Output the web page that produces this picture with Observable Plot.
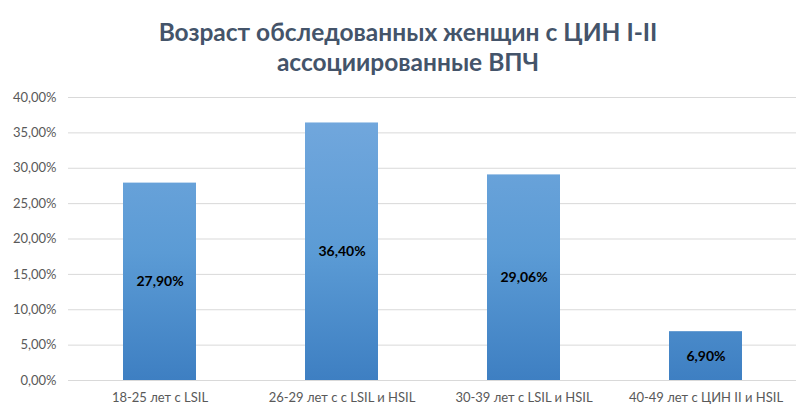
<!DOCTYPE html>
<html>
<head>
<meta charset="utf-8">
<script src="https://cdn.jsdelivr.net/npm/d3@7"></script>
<script src="https://cdn.jsdelivr.net/npm/@observablehq/plot@0.6"></script>
<style>
  html, body { margin: 0; padding: 0; background: #fff; }
  #title { width: 800px; height: 88px; box-sizing: border-box; padding-top: 17px; padding-left: 16px; text-align: center;
    font-family: Lato, "Open Sans", sans-serif; font-weight: bold; font-size: 24.5px; line-height: 30px; color: #44546a; }
  svg { display: block; }
</style>
</head>
<body>
<div id="title">Возраст обследованных женщин с ЦИН I-II<br>ассоциированные ВПЧ</div>
<div id="chart"></div>
<script>
const categories = ["18-25 лет с LSIL", "26-29 лет с с LSIL и HSIL", "30-39 лет с LSIL и HSIL", "40-49 лет с ЦИН II и HSIL"];
const values = [27.90, 36.40, 29.06, 6.90];
const yTicks = [0, 5, 10, 15, 20, 25, 30, 35, 40];

const data = categories.map((c, i) => ({category: c, value: values[i]}));
const fmt = v => v.toFixed(2).replace(".", ",") + "%";

const chart = Plot.plot({
  width: 800,
  height: 325,
  marginTop: 9,
  marginBottom: 33,
  marginLeft: 68,
  marginRight: 4,
  style: {fontFamily: "Lato, 'Open Sans', sans-serif", fontSize: "13px", color: "#595959", background: "#fff"},
  x: {domain: categories, label: null, paddingInner: 0.6, paddingOuter: 0.3, tickSize: 0, tickPadding: 12},
  y: {domain: [0, 40], ticks: yTicks, tickFormat: fmt, label: null, tickSize: 0, tickPadding: 12},
  marks: [
    Plot.gridY(yTicks, {stroke: "#d9d9d9", strokeOpacity: 1, strokeWidth: 1}),
    Plot.barY(data, {x: "category", y: "value", fill: "url(#barGrad)"}),
    Plot.text(data, {x: "category", y: d => d.value / 2, text: d => fmt(d.value), fill: "#000", fontWeight: "bold", fontSize: 14}),
    Plot.axisX({tickSize: 0, tickPadding: 12, fill: "#595959"}),
    Plot.axisY(yTicks, {tickSize: 0, tickPadding: 12, tickFormat: fmt, fill: "#595959"})
  ]
});

const svg = d3.select(chart);
const defs = svg.insert("defs", ":first-child");
const grad = defs.append("linearGradient").attr("id", "barGrad")
  .attr("gradientUnits", "userSpaceOnUse").attr("x1", 0).attr("x2", 0).attr("y1", 9).attr("y2", 292);
grad.append("stop").attr("offset", "0%").attr("stop-color", "#75a9de");
grad.append("stop").attr("offset", "55%").attr("stop-color", "#5b9bd5");
grad.append("stop").attr("offset", "100%").attr("stop-color", "#3e7fc2");

document.getElementById("chart").appendChild(chart);
</script>
</body>
</html>
